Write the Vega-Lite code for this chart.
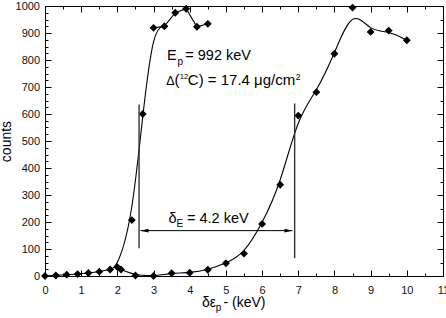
{
  "$schema": "https://vega.github.io/schema/vega-lite/v6.json",
  "width": 398,
  "height": 270,
  "autosize": {"type": "none"},
  "padding": {"left": 45, "top": 6, "right": 3, "bottom": 42},
  "background": "white",
  "config": {
    "view": {"stroke": "black", "strokeWidth": 1},
    "font": "Liberation Sans",
    "axis": {
      "domain": false,
      "grid": false,
      "labelFont": "Liberation Sans",
      "labelFontSize": 11,
      "labelColor": "#111111",
      "tickColor": "black",
      "tickWidth": 1,
      "labelOverlap": false,
      "labelFlush": false,
      "format": "d",
      "titleFont": "Liberation Sans",
      "titleFontWeight": "normal",
      "titleColor": "black",
      "titleFontSize": 14
    },
    "text": {"font": "Liberation Sans", "fontSize": 14.5, "color": "black", "align": "left", "baseline": "alphabetic"}
  },
  "data": {"values": [{}]},
  "datasets": {
    "rangeA": [
      {"de": 0.0, "counts": 0}, {"de": 0.3, "counts": 2}, {"de": 0.6, "counts": 5},
      {"de": 0.9, "counts": 7}, {"de": 1.2, "counts": 11}, {"de": 1.5, "counts": 16},
      {"de": 1.8, "counts": 24}, {"de": 2.0, "counts": 33}, {"de": 2.4, "counts": 207},
      {"de": 2.7, "counts": 600}, {"de": 3.0, "counts": 919}, {"de": 3.3, "counts": 925},
      {"de": 3.6, "counts": 975}, {"de": 3.9, "counts": 990}, {"de": 4.2, "counts": 923},
      {"de": 4.5, "counts": 934}
    ],
    "rangeB": [
      {"de": 2.1, "counts": 24}, {"de": 2.5, "counts": 2}, {"de": 3.0, "counts": 0},
      {"de": 3.5, "counts": 10}, {"de": 4.0, "counts": 12}, {"de": 4.5, "counts": 23},
      {"de": 5.0, "counts": 47}, {"de": 5.5, "counts": 83}, {"de": 6.0, "counts": 193},
      {"de": 6.5, "counts": 338}, {"de": 7.0, "counts": 594}, {"de": 7.5, "counts": 681},
      {"de": 8.0, "counts": 823}, {"de": 8.5, "counts": 994}, {"de": 9.0, "counts": 904},
      {"de": 9.5, "counts": 909}, {"de": 10.0, "counts": 873}
    ],
    "edges": [
      {"de": 2.6, "lo": 103, "hi": 635},
      {"de": 6.9, "lo": 66, "hi": 639}
    ],
    "width": [
      {"from": 2.64, "to": 6.84, "level": 168}
    ]
  },
  "layer": [
    {
      "data": {"name": "rangeA"},
      "transform": [{"filter": "datum.de <= 3.3"}],
      "mark": {"type": "line", "interpolate": "basis", "color": "black", "strokeWidth": 1.1},
      "encoding": {
        "x": {
          "field": "de", "type": "quantitative",
          "scale": {"domain": [0, 11], "nice": false, "zero": false},
          "axis": {
            "orient": "bottom",
            "values": [0, 0.5, 1, 1.5, 2, 2.5, 3, 3.5, 4, 4.5, 5, 5.5, 6, 6.5, 7, 7.5, 8, 8.5, 9, 9.5, 10, 10.5, 11],
            "labelExpr": "datum.value % 1 === 0 ? datum.label : ''",
            "tickSize": {"condition": {"test": "datum.value % 1 === 0", "value": -6}, "value": -3},
            "labelPadding": 14,
            "title": null
          }
        },
        "y": {
          "field": "counts", "type": "quantitative",
          "scale": {"domain": [0, 1000], "nice": false},
          "axis": {
            "orient": "left",
            "values": [0, 25, 50, 75, 100, 125, 150, 175, 200, 225, 250, 275, 300, 325, 350, 375, 400, 425, 450, 475, 500, 525, 550, 575, 600, 625, 650, 675, 700, 725, 750, 775, 800, 825, 850, 875, 900, 925, 950, 975, 1000],
            "labelExpr": "datum.value % 100 === 0 ? datum.label : ''",
            "tickSize": {"condition": {"test": "datum.value % 100 === 0", "value": -6}, "value": -3},
            "labelPadding": 11.5,
            "labelBaseline": "middle",
            "title": "counts",
            "titleX": -34.5,
            "titleY": 135,
            "titleAngle": -90,
            "titleAlign": "center",
            "titleBaseline": "alphabetic"
          }
        }
      }
    },
    {
      "data": {"name": "rangeB"},
      "mark": {"type": "line", "interpolate": "basis", "color": "black", "strokeWidth": 1.1},
      "encoding": {
        "x": {
          "field": "de", "type": "quantitative",
          "scale": {"domain": [0, 11], "nice": false, "zero": false},
          "axis": {
            "orient": "top",
            "values": [0, 0.5, 1, 1.5, 2, 2.5, 3, 3.5, 4, 4.5, 5, 5.5, 6, 6.5, 7, 7.5, 8, 8.5, 9, 9.5, 10, 10.5, 11],
            "labels": false,
            "tickSize": {"condition": {"test": "datum.value % 1 === 0", "value": -6}, "value": -3},
            "title": null
          }
        },
        "y": {
          "field": "counts", "type": "quantitative",
          "scale": {"domain": [0, 1000], "nice": false},
          "axis": {
            "orient": "right",
            "values": [0, 50, 100, 150, 200, 250, 300, 350, 400, 450, 500, 550, 600, 650, 700, 750, 800, 850, 900, 950, 1000],
            "labels": false,
            "tickSize": {"condition": {"test": "datum.value % 100 === 0", "value": -6}, "value": -3},
            "title": null
          }
        }
      }
    },
    {
      "data": {"name": "rangeA"},
      "transform": [{"filter": "datum.de >= 3.0"}],
      "mark": {"type": "line", "color": "black", "strokeWidth": 1.1},
      "encoding": {
        "x": {"field": "de", "type": "quantitative", "scale": {"domain": [0, 11], "nice": false, "zero": false}, "axis": null},
        "y": {"field": "counts", "type": "quantitative", "scale": {"domain": [0, 1000], "nice": false}, "axis": null}
      }
    },
    {
      "data": {"name": "rangeA"},
      "mark": {"type": "point", "shape": "diamond", "filled": true, "color": "black", "size": 62, "opacity": 1},
      "encoding": {
        "x": {"field": "de", "type": "quantitative", "scale": {"domain": [0, 11], "nice": false, "zero": false}, "axis": null},
        "y": {"field": "counts", "type": "quantitative", "scale": {"domain": [0, 1000], "nice": false}, "axis": null}
      }
    },
    {
      "data": {"name": "rangeB"},
      "mark": {"type": "point", "shape": "diamond", "filled": true, "color": "black", "size": 62, "opacity": 1},
      "encoding": {
        "x": {"field": "de", "type": "quantitative", "scale": {"domain": [0, 11], "nice": false, "zero": false}, "axis": null},
        "y": {"field": "counts", "type": "quantitative", "scale": {"domain": [0, 1000], "nice": false}, "axis": null}
      }
    },
    {
      "data": {"name": "edges"},
      "mark": {"type": "rule", "color": "#333333", "strokeWidth": 1.4},
      "encoding": {
        "x": {"field": "de", "type": "quantitative", "scale": {"domain": [0, 11], "nice": false, "zero": false}, "axis": null},
        "y": {"field": "lo", "type": "quantitative", "scale": {"domain": [0, 1000], "nice": false}, "axis": null},
        "y2": {"field": "hi"}
      }
    },
    {
      "data": {"name": "width"},
      "mark": {"type": "rule", "color": "black", "strokeWidth": 1},
      "encoding": {
        "x": {"field": "from", "type": "quantitative", "scale": {"domain": [0, 11], "nice": false, "zero": false}, "axis": null},
        "x2": {"field": "to"},
        "y": {"field": "level", "type": "quantitative", "scale": {"domain": [0, 1000], "nice": false}, "axis": null}
      }
    },
    {
      "data": {"name": "width"},
      "mark": {"type": "point", "shape": "M-1,0L1,-0.45L1,0.45Z", "filled": true, "color": "black", "size": 64, "opacity": 1, "xOffset": 4},
      "encoding": {
        "x": {"field": "from", "type": "quantitative", "scale": {"domain": [0, 11], "nice": false, "zero": false}, "axis": null},
        "y": {"field": "level", "type": "quantitative", "scale": {"domain": [0, 1000], "nice": false}, "axis": null}
      }
    },
    {
      "data": {"name": "width"},
      "mark": {"type": "point", "shape": "M1,0L-1,-0.45L-1,0.45Z", "filled": true, "color": "black", "size": 64, "opacity": 1, "xOffset": -4},
      "encoding": {
        "x": {"field": "to", "type": "quantitative", "scale": {"domain": [0, 11], "nice": false, "zero": false}, "axis": null},
        "y": {"field": "level", "type": "quantitative", "scale": {"domain": [0, 1000], "nice": false}, "axis": null}
      }
    },
    {
      "mark": {"type": "text", "text": "E"},
      "encoding": {
        "x": {"datum": 3.372, "type": "quantitative", "scale": {"domain": [0, 11], "nice": false, "zero": false}, "axis": null},
        "y": {"datum": 799, "type": "quantitative", "scale": {"domain": [0, 1000], "nice": false}, "axis": null}
      }
    },
    {
      "mark": {"type": "text", "text": "p", "fontSize": 10, "dx": 10.5, "dy": 4.5},
      "encoding": {
        "x": {"datum": 3.372, "type": "quantitative", "scale": {"domain": [0, 11], "nice": false, "zero": false}, "axis": null},
        "y": {"datum": 799, "type": "quantitative", "scale": {"domain": [0, 1000], "nice": false}, "axis": null}
      }
    },
    {
      "mark": {"type": "text", "text": "= 992 keV", "dx": 18.3},
      "encoding": {
        "x": {"datum": 3.372, "type": "quantitative", "scale": {"domain": [0, 11], "nice": false, "zero": false}, "axis": null},
        "y": {"datum": 799, "type": "quantitative", "scale": {"domain": [0, 1000], "nice": false}, "axis": null}
      }
    },
    {
      "mark": {"type": "text", "text": "Δ", "fontSize": 12.5},
      "encoding": {
        "x": {"datum": 3.353, "type": "quantitative", "scale": {"domain": [0, 11], "nice": false, "zero": false}, "axis": null},
        "y": {"datum": 705.6, "type": "quantitative", "scale": {"domain": [0, 1000], "nice": false}, "axis": null}
      }
    },
    {
      "mark": {"type": "text", "text": "(", "fontSize": 15, "dx": 8.2},
      "encoding": {
        "x": {"datum": 3.353, "type": "quantitative", "scale": {"domain": [0, 11], "nice": false, "zero": false}, "axis": null},
        "y": {"datum": 705.6, "type": "quantitative", "scale": {"domain": [0, 1000], "nice": false}, "axis": null}
      }
    },
    {
      "mark": {"type": "text", "text": "12", "fontSize": 7.5, "dx": 13.4, "dy": -6},
      "encoding": {
        "x": {"datum": 3.353, "type": "quantitative", "scale": {"domain": [0, 11], "nice": false, "zero": false}, "axis": null},
        "y": {"datum": 705.6, "type": "quantitative", "scale": {"domain": [0, 1000], "nice": false}, "axis": null}
      }
    },
    {
      "mark": {"type": "text", "text": "C) = 17.4 μg/cm", "fontSize": 15, "dx": 21.5},
      "encoding": {
        "x": {"datum": 3.353, "type": "quantitative", "scale": {"domain": [0, 11], "nice": false, "zero": false}, "axis": null},
        "y": {"datum": 705.6, "type": "quantitative", "scale": {"domain": [0, 1000], "nice": false}, "axis": null}
      }
    },
    {
      "mark": {"type": "text", "text": "2", "fontSize": 8.5, "dx": 129.5, "dy": -5.5},
      "encoding": {
        "x": {"datum": 3.353, "type": "quantitative", "scale": {"domain": [0, 11], "nice": false, "zero": false}, "axis": null},
        "y": {"datum": 705.6, "type": "quantitative", "scale": {"domain": [0, 1000], "nice": false}, "axis": null}
      }
    },
    {
      "mark": {"type": "text", "text": "δ"},
      "encoding": {
        "x": {"datum": 3.416, "type": "quantitative", "scale": {"domain": [0, 11], "nice": false, "zero": false}, "axis": null},
        "y": {"datum": 197, "type": "quantitative", "scale": {"domain": [0, 1000], "nice": false}, "axis": null}
      }
    },
    {
      "mark": {"type": "text", "text": "E", "fontSize": 10, "dx": 8, "dy": 4},
      "encoding": {
        "x": {"datum": 3.416, "type": "quantitative", "scale": {"domain": [0, 11], "nice": false, "zero": false}, "axis": null},
        "y": {"datum": 197, "type": "quantitative", "scale": {"domain": [0, 1000], "nice": false}, "axis": null}
      }
    },
    {
      "mark": {"type": "text", "text": "= 4.2 keV", "dx": 18.4},
      "encoding": {
        "x": {"datum": 3.416, "type": "quantitative", "scale": {"domain": [0, 11], "nice": false, "zero": false}, "axis": null},
        "y": {"datum": 197, "type": "quantitative", "scale": {"domain": [0, 1000], "nice": false}, "axis": null}
      }
    },
    {
      "mark": {"type": "text", "text": "δε", "fontSize": 14},
      "encoding": {
        "x": {"datum": 4.339, "type": "quantitative", "scale": {"domain": [0, 11], "nice": false, "zero": false}, "axis": null},
        "y": {"datum": -114, "type": "quantitative", "scale": {"domain": [0, 1000], "nice": false}, "axis": null}
      }
    },
    {
      "mark": {"type": "text", "text": "p", "fontSize": 10, "dx": 13.8, "dy": 4},
      "encoding": {
        "x": {"datum": 4.339, "type": "quantitative", "scale": {"domain": [0, 11], "nice": false, "zero": false}, "axis": null},
        "y": {"datum": -114, "type": "quantitative", "scale": {"domain": [0, 1000], "nice": false}, "axis": null}
      }
    },
    {
      "mark": {"type": "text", "text": "- (keV)", "fontSize": 14, "dx": 21.5},
      "encoding": {
        "x": {"datum": 4.339, "type": "quantitative", "scale": {"domain": [0, 11], "nice": false, "zero": false}, "axis": null},
        "y": {"datum": -114, "type": "quantitative", "scale": {"domain": [0, 1000], "nice": false}, "axis": null}
      }
    }
  ],
  "resolve": {"axis": {"x": "independent", "y": "independent"}}
}
